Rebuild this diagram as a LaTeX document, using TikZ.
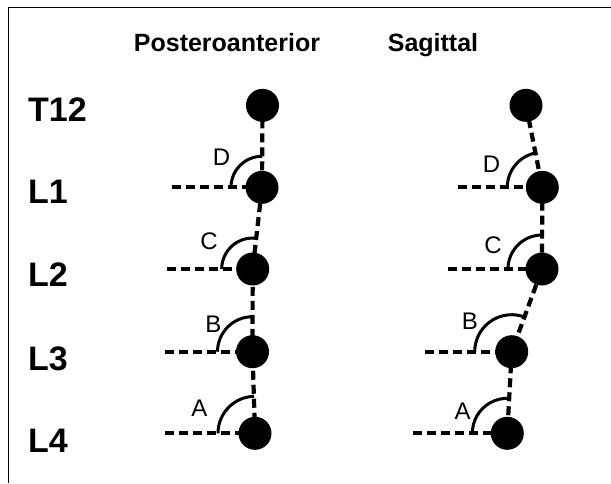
\documentclass[tikz,border=0pt]{standalone}
\usepackage{fontspec}
\setmainfont{Liberation Sans}
\usetikzlibrary{calc}
\pgfdeclarelayer{bg}
\pgfsetlayers{bg,main}
\begin{document}
\begin{tikzpicture}[x=1pt,y=-1pt,
  vert/.style={circle, fill=black, minimum size=33pt, inner sep=0pt},
  spine/.style={line width=4.2pt, dash pattern=on 9pt off 5pt},
  angarc/.style={line width=3pt},
  lvl/.style={font=\fontsize{34}{34}\selectfont\bfseries, anchor=base west, inner sep=0pt},
  head/.style={font=\fontsize{25}{25}\selectfont\bfseries, anchor=base, inner sep=0pt},
  ang/.style={font=\fontsize{24}{24}\selectfont, inner sep=0pt}]
\useasboundingbox (0,0) rectangle (611,483);
% frame
\draw[line width=1.2pt] (8.5,483) -- (8.5,7.3) -- (611,7.3);
% headers
\node[head] (hpa) at (227,51) {Posteroanterior};
\node[head] (hsg) at (433,51) {Sagittal};
% level labels
\node[lvl] (t12) at (28,121) {T12};
\node[lvl] (l1) at (28,203) {L1};
\node[lvl] (l2) at (28,286) {L2};
\node[lvl] (l3) at (28,370) {L3};
\node[lvl] (l4) at (28,452) {L4};
% posteroanterior vertebrae
\node[vert] (p0) at (262.5,105.3) {};
\node[vert] (p1) at (262,187.3) {};
\node[vert] (p2) at (252.7,269) {};
\node[vert] (p3) at (252.5,351.7) {};
\node[vert] (p4) at (255,433.3) {};
% sagittal vertebrae
\node[vert] (s0) at (526,105.3) {};
\node[vert] (s1) at (542.3,187.3) {};
\node[vert] (s2) at (542,269) {};
\node[vert] (s3) at (511.7,351.7) {};
\node[vert] (s4) at (507.3,433.3) {};
% free ends of horizontal reference lines
\coordinate (hp1) at (172,187.3);
\coordinate (hp2) at (167,269);
\coordinate (hp3) at (165,351.7);
\coordinate (hp4) at (165,433.3);
\coordinate (hs1) at (458,187.3);
\coordinate (hs2) at (448,269);
\coordinate (hs3) at (425,351.7);
\coordinate (hs4) at (413,433.3);
\begin{pgfonlayer}{bg}
\draw[spine] (p0.center) -- (p1.center) -- (p2.center) -- (p3.center) -- (p4.center);
\draw[spine] (s0.center) -- (s1.center) -- (s2.center) -- (s3.center) -- (s4.center);
\foreach \i in {1,2,3,4}{
  \draw[spine] (hp\i) -- (p\i.center);
  \draw[spine] (hs\i) -- (s\i.center);
}
% angle arcs
\draw[angarc] ($(p1.center)+(-31,0)$) arc[start angle=180, end angle=270, radius=31];
\draw[angarc] ($(p2.center)+(-31,0)$) arc[start angle=180, end angle=276.3, radius=31];
\draw[angarc] ($(p3.center)+(-35,0)$) arc[start angle=180, end angle=270, radius=35];
\draw[angarc] ($(p4.center)+(-37,0)$) arc[start angle=180, end angle=268.6, radius=37];
\draw[angarc] ($(s1.center)+(-35,0)$) arc[start angle=180, end angle=259, radius=35];
\draw[angarc] ($(s2.center)+(-34,0)$) arc[start angle=180, end angle=270, radius=34];
\draw[angarc] ($(s3.center)+(-37,0)$) arc[start angle=180, end angle=290, radius=37];
\draw[angarc] ($(s4.center)+(-35,0)$) arc[start angle=180, end angle=273.5, radius=35];
\end{pgfonlayer}
% angle labels
\node[ang] (ad) at (221.5,157.5) {D};
\node[ang] (ac) at (209,241) {C};
\node[ang] (ab) at (213.5,324.5) {B};
\node[ang] (aa) at (199.5,408) {A};
\node[ang] (sd) at (491.5,164) {D};
\node[ang] (sc) at (493,245.5) {C};
\node[ang] (sb) at (470,321.5) {B};
\node[ang] (sa) at (462.5,411) {A};
\end{tikzpicture}
\end{document}
